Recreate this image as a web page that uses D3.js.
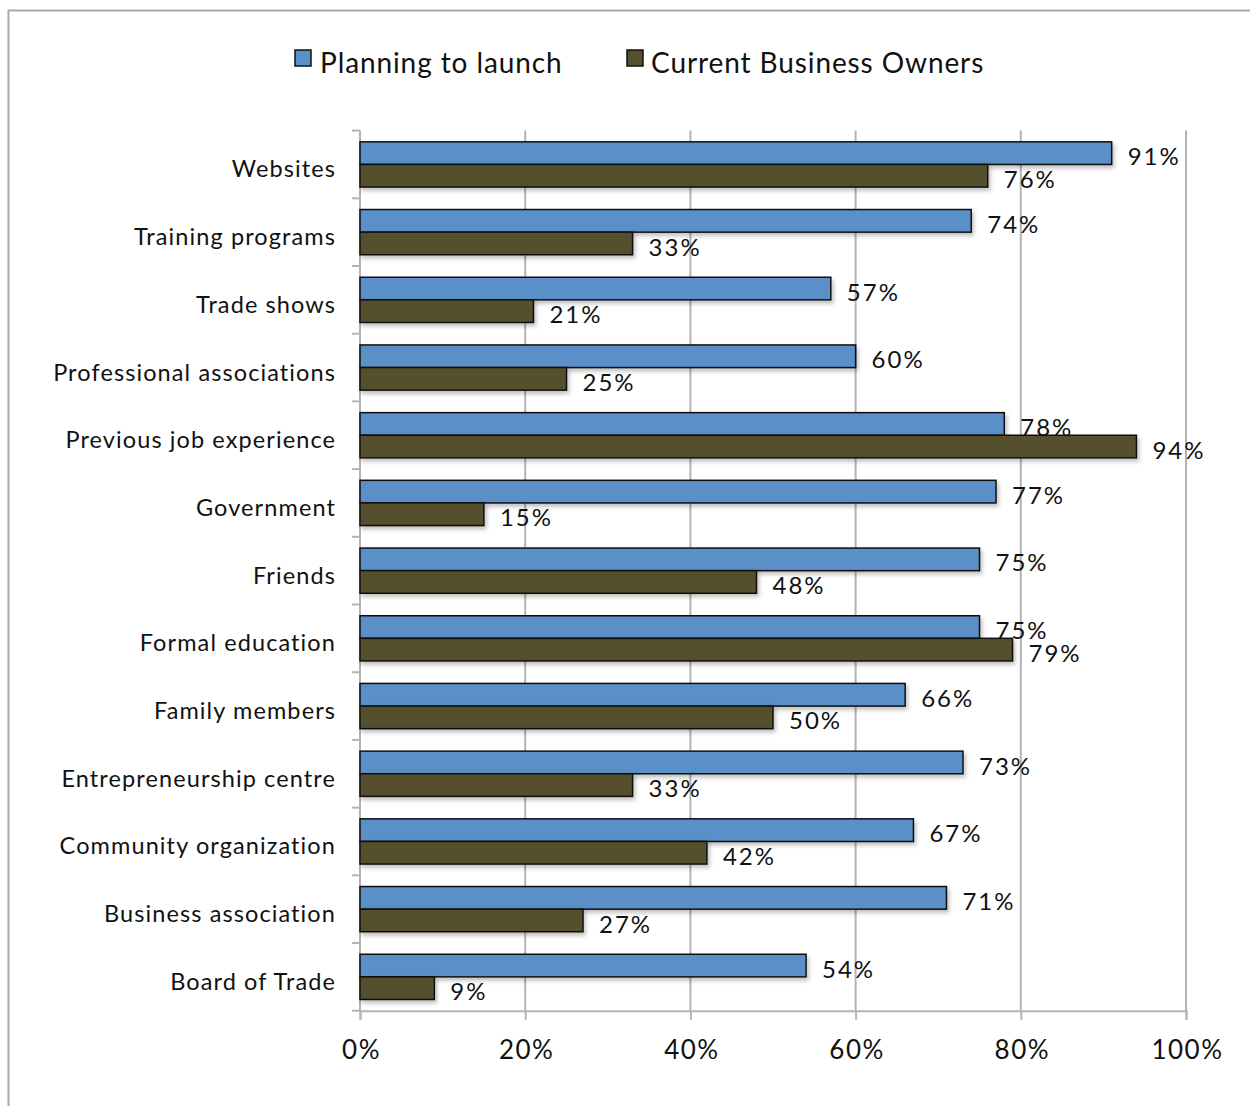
<!DOCTYPE html>
<html>
<head>
<meta charset="utf-8">
<script src="https://cdn.jsdelivr.net/npm/d3@7"></script>
<style>
  html, body { margin: 0; padding: 0; background: #fff; }
  svg { display: block; }
  text { font-family: Lato, "Noto Sans", sans-serif; fill: #111; }
</style>
</head>
<body>
<svg id="chart" width="1250" height="1106"></svg>
<script>
// Sources of information, by respondent group (percent)
const categories = [
  "Websites", "Training programs", "Trade shows", "Professional associations",
  "Previous job experience", "Government", "Friends", "Formal education",
  "Family members", "Entrepreneurship centre", "Community organization",
  "Business association", "Board of Trade"
];
const seriesNames = ["Planning to launch", "Current Business Owners"];
const planningValues = [91, 74, 57, 60, 78, 77, 75, 75, 66, 73, 67, 71, 54];
const ownersValues   = [76, 33, 21, 25, 94, 15, 48, 79, 50, 33, 42, 27, 9];
const xTicks = [0, 20, 40, 60, 80, 100];

const colors = ["#5a8fc7", "#56502f"];

const svg = d3.select("#chart");
const W = 1250, H = 1106;

// outer frame
svg.append("rect")
  .attr("x", 8.5).attr("y", 10.5)
  .attr("width", W + 10).attr("height", H + 10)
  .attr("fill", "none").attr("stroke", "#a9a9a9").attr("stroke-width", 2);

const plot = { left: 360, right: 1186, top: 130.6, bottom: 1010.7 };

const x = d3.scaleLinear().domain([0, 100]).range([plot.left, plot.right]);
const y = d3.scaleBand().domain(categories).range([plot.top, plot.bottom]).padding(0);
const barH = 22.6;
const inner = d3.scaleBand().domain(seriesNames)
  .range([(y.bandwidth() - 2 * barH) / 2, (y.bandwidth() + 2 * barH) / 2]).padding(0);

const defs = svg.append("defs");
const shadow = defs.append("filter").attr("id", "barShadow")
  .attr("x", "-5%").attr("y", "-30%").attr("width", "110%").attr("height", "180%");
shadow.append("feDropShadow")
  .attr("dx", 2).attr("dy", 3).attr("stdDeviation", 2)
  .attr("flood-color", "#000").attr("flood-opacity", 0.25);

// vertical gridlines
svg.append("g")
  .selectAll("line")
  .data(xTicks.filter(d => d > 0))
  .join("line")
  .attr("x1", d => x(d)).attr("x2", d => x(d))
  .attr("y1", plot.top).attr("y2", plot.bottom)
  .attr("stroke", "#b3b3b3").attr("stroke-width", 2);

// bottom axis
const xAxis = svg.append("g")
  .attr("transform", `translate(0,${plot.bottom})`)
  .call(d3.axisBottom(x).tickValues(xTicks).tickFormat(d => d + "%").tickSize(9).tickPadding(21));
xAxis.select(".domain").attr("stroke", "#b3b3b3").attr("stroke-width", 2);
xAxis.selectAll(".tick line").attr("stroke", "#b3b3b3").attr("stroke-width", 2);
xAxis.selectAll(".tick text")
  .attr("font-size", 26).attr("font-family", "Lato, sans-serif").attr("fill", "#111")
  .attr("letter-spacing", 1.5).attr("dx", 1);

// left axis with band boundary ticks
const yAxisG = svg.append("g").attr("transform", `translate(${plot.left},0)`);
yAxisG.append("line")
  .attr("x1", 0).attr("x2", 0).attr("y1", plot.top).attr("y2", plot.bottom)
  .attr("stroke", "#b3b3b3").attr("stroke-width", 2);
const boundaries = categories.map(c => y(c)).concat([plot.bottom]);
yAxisG.selectAll("line.tk")
  .data(boundaries)
  .join("line").attr("class", "tk")
  .attr("x1", -8).attr("x2", 0)
  .attr("y1", d => d).attr("y2", d => d)
  .attr("stroke", "#b3b3b3").attr("stroke-width", 2);

// category labels
svg.append("g")
  .selectAll("text")
  .data(categories)
  .join("text")
  .attr("x", 336)
  .attr("y", d => y(d) + y.bandwidth() / 2 + 7)
  .attr("text-anchor", "end")
  .attr("dominant-baseline", "middle")
  .attr("font-size", 23.5)
  .attr("letter-spacing", 1.1)
  .text(d => d);

// bars
const rows = categories.map((c, i) => ({
  cat: c,
  vals: [
    { s: seriesNames[0], v: planningValues[i], k: 0 },
    { s: seriesNames[1], v: ownersValues[i], k: 1 }
  ]
}));

const groups = svg.append("g")
  .selectAll("g")
  .data(rows)
  .join("g")
  .attr("transform", d => `translate(0,${y(d.cat)})`);

groups.selectAll("rect")
  .data(d => d.vals)
  .join("rect")
  .attr("x", x(0))
  .attr("y", d => inner(d.s))
  .attr("width", d => x(d.v) - x(0))
  .attr("height", barH)
  .attr("fill", d => colors[d.k])
  .attr("stroke", "#111")
  .attr("stroke-width", 1.5)
  .attr("filter", "url(#barShadow)");

// value labels
groups.selectAll("text")
  .data(d => d.vals)
  .join("text")
  .attr("x", d => x(d.v) + 16)
  .attr("y", d => inner(d.s) + barH / 2 + 6)
  .attr("dominant-baseline", "middle")
  .attr("font-size", 24)
  .attr("letter-spacing", 2)
  .text(d => d.v + "%");

// legend
const legend = svg.append("g");
const legendItems = [
  { name: seriesNames[0], x: 295, tx: 320 },
  { name: seriesNames[1], x: 627, tx: 651 }
];
legendItems.forEach((it, i) => {
  legend.append("rect")
    .attr("x", it.x).attr("y", 50).attr("width", 16).attr("height", 16)
    .attr("fill", colors[i]).attr("stroke", "#111").attr("stroke-width", 1.5);
  legend.append("text")
    .attr("x", it.tx).attr("y", 66)
    .attr("dominant-baseline", "middle")
    .attr("font-size", 28)
    .attr("letter-spacing", 0.9)
    .text(it.name);
});
</script>
</body>
</html>
